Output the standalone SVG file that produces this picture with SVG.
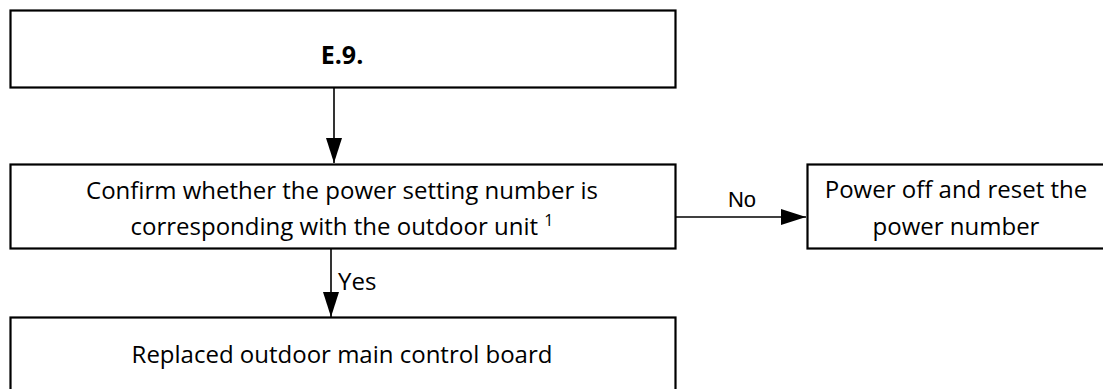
<svg xmlns="http://www.w3.org/2000/svg" width="1103" height="389" viewBox="0 0 1103 389">
<style>
.box{fill:#fff;stroke:#000;stroke-width:2.2}
.t{font-family:"Open Sans","Liberation Sans",sans-serif;font-size:24px;fill:#000;text-anchor:middle}
.b{font-family:"Open Sans","Liberation Sans",sans-serif;font-size:25px;font-weight:bold;fill:#000;text-anchor:middle}
.lbl{font-family:"Liberation Sans",Arial,sans-serif;font-size:22px;fill:#000}
.c{stroke:#000;stroke-width:1.6;fill:none}
</style>
<defs>
<marker id="ah" markerUnits="userSpaceOnUse" markerWidth="25" markerHeight="16" refX="25" refY="8" orient="auto">
<path d="M0,0 L25,8 L0,16 Z" fill="#000"/>
</marker>
</defs>
<g id="n1">
<rect class="box" x="10.5" y="10.5" width="665" height="77"/>
<text class="b" x="342" y="64">E.9.</text>
</g>
<g id="n2">
<rect class="box" x="10.5" y="164.5" width="665" height="84"/>
<text class="t" x="342" y="199">Confirm whether the power setting number is</text>
<text class="t" x="342" y="235"><tspan>corresponding with the outdoor unit </tspan><tspan font-size="16" dy="-9">1</tspan></text>
</g>
<g id="n3">
<rect class="box" x="807.5" y="164.5" width="310" height="84"/>
<text class="t" x="956" y="198">Power off and reset the</text>
<text class="t" x="956" y="235">power number</text>
</g>
<g id="n4">
<rect class="box" x="10.5" y="317.5" width="665" height="80"/>
<text class="t" x="342" y="363">Replaced outdoor main control board</text>
</g>
<g id="connectors">
<line class="c" x1="334" y1="88" x2="334" y2="163" marker-end="url(#ah)"/>
<line class="c" x1="331" y1="249" x2="331" y2="317" marker-end="url(#ah)"/>
<line class="c" x1="676" y1="217" x2="806" y2="217" marker-end="url(#ah)"/>
<text class="lbl" x="742" y="207" text-anchor="middle">No</text>
<text class="t" x="338" y="290" style="text-anchor:start">Yes</text>
</g>
</svg>
